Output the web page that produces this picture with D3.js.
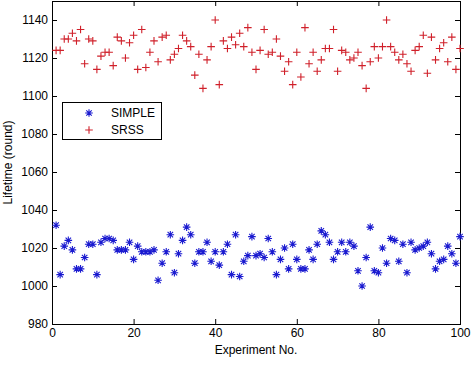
<!DOCTYPE html>
<html><head><meta charset="utf-8">
<script src="https://cdn.jsdelivr.net/npm/d3@7"></script>
<style>html,body{margin:0;padding:0;background:#fff;}svg{display:block;}</style>
</head><body>
<script>
const experiments = d3.range(1, 101);
const simple = [1032,1006,1021,1024,1019,1009,1009,1015,1022,1022,
1006,1023,1025,1025,1024,1019,1019,1019,1023,1014,
1021,1018,1018,1018,1019,1003,1012,1018,1027,1007,
1017,1024,1031,1027,1012,1018,1018,1023,1013,1018,
1011,1018,1022,1006,1027,1005,1013,1016,1026,1016,
1017,1015,1025,1018,1006,1014,1020,1009,1022,1014,
1009,1009,1019,1014,1022,1029,1027,1023,1014,1018,
1023,1018,1023,1021,1008,1000,1015,1031,1008,1007,
1020,1012,1025,1024,1013,1022,1007,1023,1019,1020,
1021,1023,1017,1009,1013,1014,1021,1017,1012,1026];
const srss = [1124,1124,1130,1130,1133,1129,1135,1117,1130,1129,
1114,1121,1123,1123,1116,1131,1129,1120,1128,1132,
1114,1135,1115,1123,1129,1118,1131,1132,1119,1122,
1125,1132,1129,1126,1111,1122,1104,1119,1126,1140,
1106,1129,1125,1131,1127,1133,1126,1136,1123,1114,
1124,1135,1122,1123,1130,1121,1113,1118,1106,1123,
1110,1136,1117,1123,1113,1119,1125,1125,1135,1113,
1124,1123,1119,1120,1123,1116,1104,1118,1126,1120,
1126,1140,1126,1123,1119,1122,1117,1113,1124,1126,
1132,1112,1131,1119,1125,1128,1118,1131,1114,1125];
const xTicks = [0,20,40,60,80,100];
const yTicks = [980,1000,1020,1040,1060,1080,1100,1120,1140];
const seriesNames = ["SIMPLE","SRSS"];

const W = 472, H = 368;
const L = 52, R = 460, T = 1, B = 324;
const blue = "#1a1ad0", red = "#d0202a";
const font = "'Liberation Sans', Arial, sans-serif";
const fmt = d3.format("d");

const svg = d3.select("body").append("svg").attr("width", W).attr("height", H);
const x = d3.scaleLinear().domain([0,100]).range([L, R]);
const y = d3.scaleLinear().domain([980,1150]).range([B, T]);

const tl = 5;
const axB = svg.append("g").attr("transform", `translate(0,${B})`)
  .call(d3.axisBottom(x).tickValues(xTicks).tickSizeInner(-tl).tickSizeOuter(0).tickPadding(4).tickFormat(fmt));
const axL = svg.append("g").attr("transform", `translate(${L},0)`)
  .call(d3.axisLeft(y).tickValues(yTicks).tickSizeInner(-tl).tickSizeOuter(0).tickPadding(4).tickFormat(fmt));
const axT = svg.append("g").attr("transform", `translate(0,${T})`)
  .call(d3.axisTop(x).tickValues(xTicks).tickSizeInner(-tl).tickSizeOuter(0).tickFormat(""));
const axR = svg.append("g").attr("transform", `translate(${R},0)`)
  .call(d3.axisRight(y).tickValues(yTicks).tickSizeInner(-tl).tickSizeOuter(0).tickFormat(""));
[axB, axL, axT, axR].forEach(a => {
  a.select(".domain").remove();
  a.selectAll("line").attr("stroke", "#000");
  a.selectAll("text").attr("font-family", font).attr("font-size", 12).attr("fill", "#000");
});

svg.append("rect").attr("x", L+0.5).attr("y", T+0.5).attr("width", R-L).attr("height", B-T)
  .attr("fill", "none").attr("stroke", "#000");

function plusPath(r){ return `M${-r},0H${r}M0,${-r}V${r}`; }
function starPath(r){ const d = r*0.72; return `M${-r},0H${r}M0,${-r}V${r}M${-d},${-d}L${d},${d}M${-d},${d}L${d},${-d}`; }

svg.append("g").selectAll("path").data(experiments).join("path")
  .attr("transform", (d,i) => `translate(${x(d)},${y(srss[i])})`)
  .attr("d", plusPath(3.8)).attr("stroke", red).attr("stroke-width", 1.1).attr("fill", "none");
svg.append("g").selectAll("path").data(experiments).join("path")
  .attr("transform", (d,i) => `translate(${x(d)},${y(simple[i])})`)
  .attr("d", starPath(3.8)).attr("stroke", blue).attr("stroke-width", 1.1).attr("fill", "none");

svg.append("text").attr("x", (L+R)/2).attr("y", 354).attr("text-anchor", "middle")
  .attr("font-family", font).attr("font-size", 12).text("Experiment No.");
svg.append("text").attr("transform", `translate(12,${(T+B)/2}) rotate(-90)`).attr("text-anchor", "middle")
  .attr("font-family", font).attr("font-size", 12).text("Lifetime (round)");

const lg = svg.append("g");
lg.append("rect").attr("x", 62.5).attr("y", 102.5).attr("width", 99).attr("height", 37)
  .attr("fill", "#fff").attr("stroke", "#000");
const rows = [{n: seriesNames[0], c: blue, p: starPath(3.8), yy: 113},
              {n: seriesNames[1], c: red, p: plusPath(3.8), yy: 130}];
rows.forEach(r => {
  lg.append("path").attr("transform", `translate(89,${r.yy})`).attr("d", r.p)
    .attr("stroke", r.c).attr("stroke-width", 1.1).attr("fill", "none");
  lg.append("text").attr("x", 111).attr("y", r.yy + 4).attr("font-family", font)
    .attr("font-size", 12).text(r.n);
});
</script>
</body></html>
